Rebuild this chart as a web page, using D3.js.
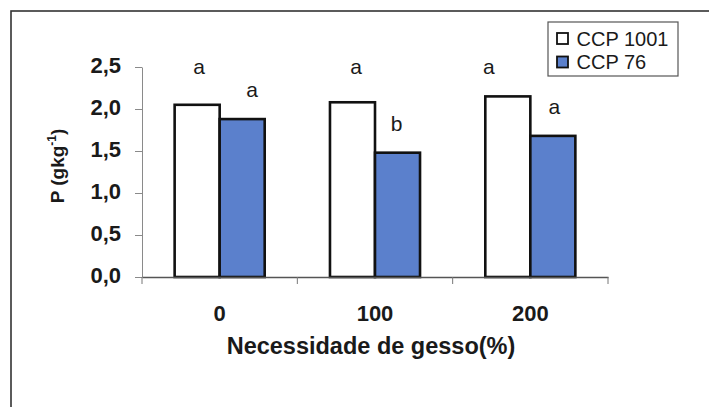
<!DOCTYPE html>
<html>
<head>
<meta charset="utf-8">
<script src="https://cdn.jsdelivr.net/npm/d3@7"></script>
<style>
  html, body { margin: 0; padding: 0; background: #fff; }
  svg { display: block; font-family: "Liberation Sans", Arial, sans-serif; }
</style>
</head>
<body>
<svg id="chart" width="709" height="407"></svg>
<script>
// Necessidade de gesso (%) treatments
const doses = ["0", "100", "200"];
const cultivars = ["CCP 1001", "CCP 76"];
// P content (g kg-1) per cultivar, one value per dose
const ccp1001 = [2.05, 2.08, 2.15];
const ccp76 = [1.88, 1.48, 1.68];
// Significance letters per cultivar
const lettersCcp1001 = ["a", "a", "a"];
const lettersCcp76 = ["a", "b", "a"];
const yTicks = [0, 0.5, 1.0, 1.5, 2.0, 2.5];

const seriesValues = [ccp1001, ccp76];
const seriesLetters = [lettersCcp1001, lettersCcp76];
const fills = ["#ffffff", "#5b80cc"];
// small horizontal nudges for the letters (px)
const letterNudge = [[2, 3.5, -19], [10, -1, 1.5]];

const svg = d3.select("#chart");

// outer frame
svg.append("rect")
  .attr("x", 11).attr("y", 11)
  .attr("width", 720).attr("height", 420)
  .attr("fill", "none").attr("stroke", "#333").attr("stroke-width", 1.6);

const plot = { left: 142, right: 608, top: 67, bottom: 277 };

const x = d3.scaleBand().domain(doses).range([plot.left, plot.right]).padding(0);
const xInner = d3.scaleBand().domain(cultivars).range([0, x.bandwidth()])
  .paddingInner(0).paddingOuter(0.725);
const y = d3.scaleLinear().domain([0, 2.5]).range([plot.bottom, plot.top]);

const fmt = v => d3.format(".1f")(v).replace(".", ",");

// y axis
const yAxis = svg.append("g")
  .attr("transform", `translate(${plot.left},0)`)
  .call(d3.axisLeft(y).tickValues(yTicks).tickFormat(fmt).tickSize(7).tickPadding(14).tickSizeOuter(0));
yAxis.select(".domain").attr("stroke", "#8a8a8a").attr("stroke-width", 1);
yAxis.selectAll(".tick line").attr("stroke", "#8a8a8a");
yAxis.selectAll(".tick text")
  .attr("font-size", 22).attr("font-weight", "bold").attr("fill", "#1a1a1a")
  .attr("font-family", "Liberation Sans, Arial, sans-serif")
  .attr("dy", "0.25em");

// bars
cultivars.forEach((c, si) => {
  svg.append("g").selectAll("rect")
    .data(doses)
    .join("rect")
    .attr("x", d => x(d) + xInner(c))
    .attr("y", (d, i) => y(seriesValues[si][i]))
    .attr("width", xInner.bandwidth())
    .attr("height", (d, i) => y(0) - y(seriesValues[si][i]))
    .attr("fill", fills[si])
    .attr("stroke", "#111")
    .attr("stroke-width", 2.6);
});

// x axis: line, boundary ticks and centred labels
const xAxis = svg.append("g")
  .attr("transform", `translate(0,${plot.bottom})`)
  .call(d3.axisBottom(x).tickSize(0).tickPadding(28).tickSizeOuter(0));
xAxis.select(".domain").attr("stroke", "#555").attr("stroke-width", 1.6);
xAxis.selectAll(".tick text")
  .attr("font-size", 22).attr("font-weight", "bold").attr("fill", "#1a1a1a")
  .attr("font-family", "Liberation Sans, Arial, sans-serif");
const bounds = doses.map(d => x(d)).concat([x(doses[doses.length - 1]) + x.bandwidth()]);
xAxis.selectAll("line.bound")
  .data(bounds)
  .join("line")
  .attr("class", "bound")
  .attr("x1", d => d).attr("x2", d => d)
  .attr("y1", 0).attr("y2", 7)
  .attr("stroke", "#777").attr("stroke-width", 1);

// significance letters
cultivars.forEach((c, si) => {
  svg.append("g").selectAll("text")
    .data(doses)
    .join("text")
    .attr("x", (d, i) => x(d) + xInner(c) + xInner.bandwidth() / 2 + letterNudge[si][i])
    .attr("y", (d, i) => si === 0 ? y(2.42) : y(seriesValues[si][i]) - 22)
    .attr("text-anchor", "middle")
    .attr("font-size", 21)
    .attr("fill", "#1a1a1a")
    .text((d, i) => seriesLetters[si][i]);
});

// axis titles
svg.append("text")
  .attr("x", (plot.left + plot.right) / 2 - 4)
  .attr("y", 354)
  .attr("text-anchor", "middle")
  .attr("font-size", 23.5).attr("font-weight", "bold").attr("fill", "#1a1a1a")
  .text("Necessidade de gesso(%)");

const yTitle = svg.append("text")
  .attr("transform", "translate(64,166) rotate(-90)")
  .attr("text-anchor", "middle")
  .attr("font-size", 19).attr("font-weight", "bold").attr("fill", "#1a1a1a");
yTitle.append("tspan").text("P (gkg");
yTitle.append("tspan").attr("font-size", 12).attr("dy", -8).text("-1");
yTitle.append("tspan").attr("dy", 8).text(")");

// legend
const legend = svg.append("g");
legend.append("rect")
  .attr("x", 548).attr("y", 22).attr("width", 130).attr("height", 54)
  .attr("fill", "#fff").attr("stroke", "#555").attr("stroke-width", 1.2);
cultivars.forEach((c, si) => {
  const row = legend.append("g").attr("transform", `translate(557,${33 + si * 23.5})`);
  row.append("rect")
    .attr("width", 11).attr("height", 11)
    .attr("fill", fills[si]).attr("stroke", "#111").attr("stroke-width", 1.8);
  row.append("text")
    .attr("x", 19.5).attr("y", 12.5)
    .attr("font-size", 20).attr("fill", "#1a1a1a")
    .text(c);
});
</script>
</body>
</html>
